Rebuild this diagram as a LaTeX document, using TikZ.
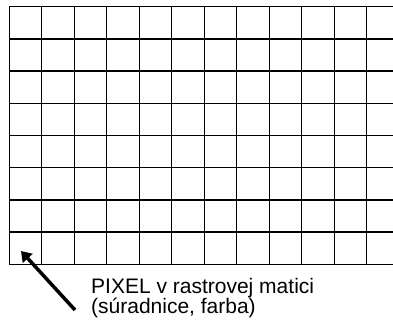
\documentclass[tikz,border=0pt]{standalone}
\usepackage{fontspec}
\setmainfont{Liberation Sans}
\usetikzlibrary{arrows.meta,positioning}

\begin{document}
\begin{tikzpicture}[x=1pt,y=-1pt, every node/.style={font=\fontsize{21}{20.5}\selectfont}]
  \useasboundingbox (0,0) rectangle (393,324);
  \clip (0,0) rectangle (393,324);
  % raster grid
  \foreach \i in {0,...,8}
    \draw[line width=1.3pt] (9.3,6.7+32.2*\i) -- (400,6.7+32.2*\i);
  \foreach \j in {0,...,11}
    \draw[line width=1.3pt] (9.3+32.5*\j,6.7) -- (9.3+32.5*\j,264.3);
  \coordinate (pix) at (21,251);
  \node[anchor=north west,inner sep=0pt,align=left] (lbl) at (91,278) {PIXEL v rastrovej matici\\(súradnice, farba)};
  \coordinate (tail) at (75,310);
  \draw[line width=3.5pt,-{Triangle[length=10pt,width=13pt]}] (tail) -- (pix);
\end{tikzpicture}
\end{document}
